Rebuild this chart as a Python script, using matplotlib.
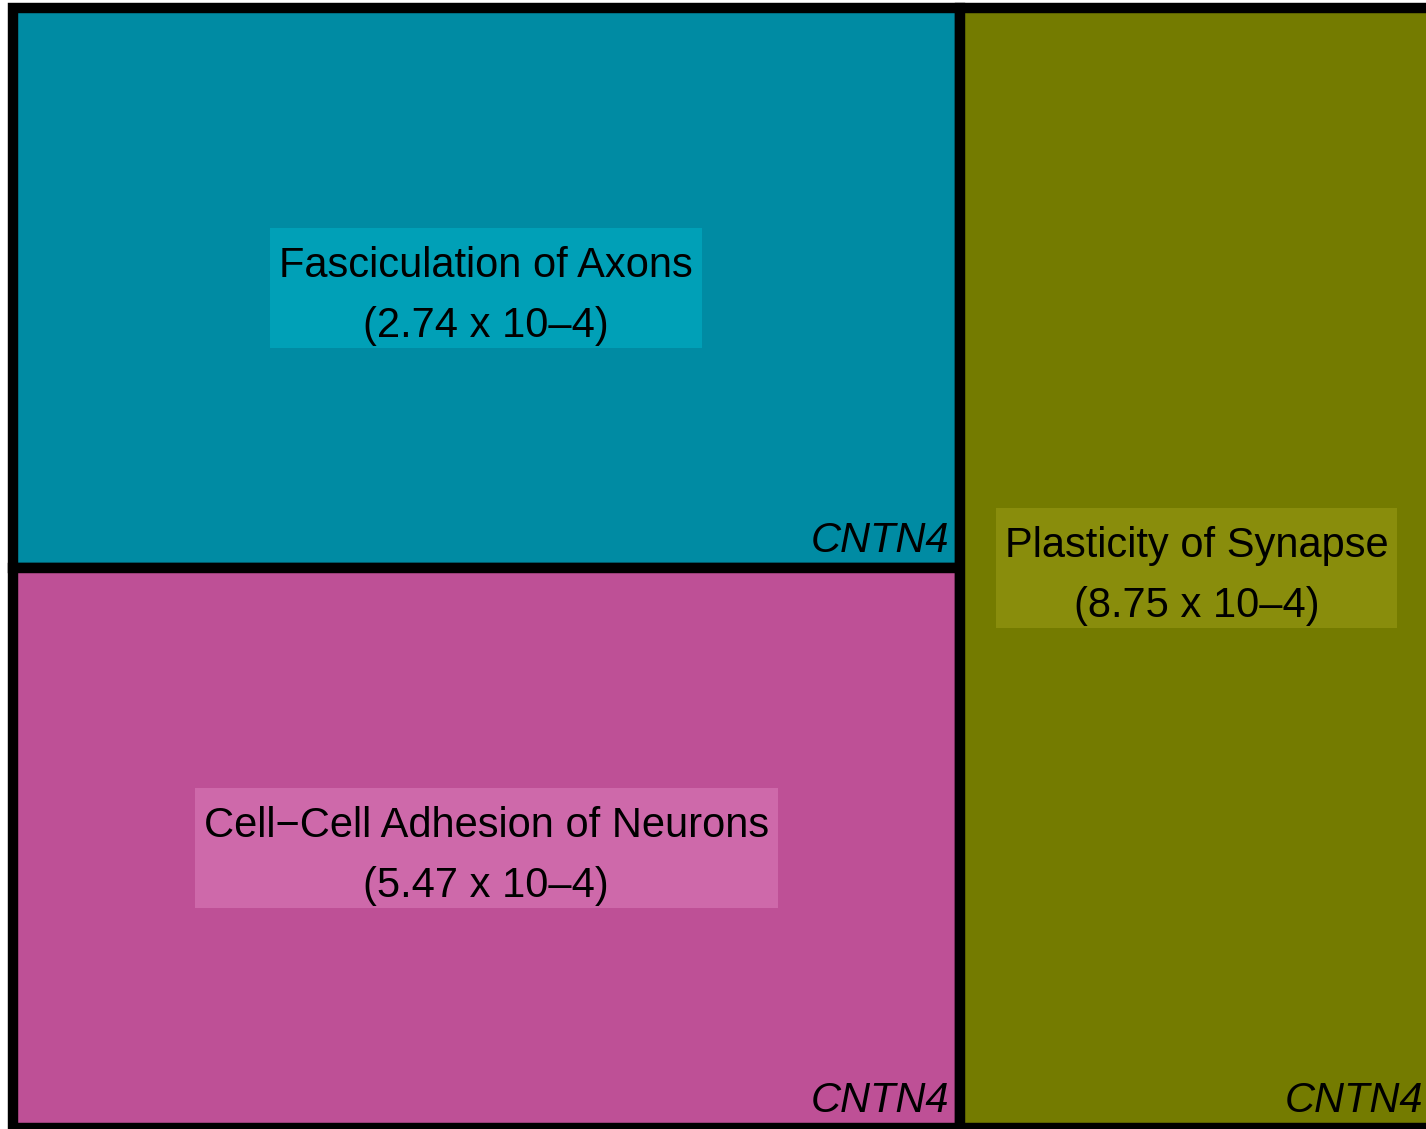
import matplotlib.pyplot as plt
from matplotlib.patches import Rectangle

plt.rcParams['font.family'] = ['Liberation Sans', 'DejaVu Sans']

# treemap data: one gene (CNTN4) per term, p-values shown in the labels
terms = ["Fasciculation of Axons", "Cell\u2212Cell Adhesion of Neurons", "Plasticity of Synapse"]
pvals = ["2.74 x 10\u20134", "5.47 x 10\u20134", "8.75 x 10\u20134"]
genes = ["CNTN4", "CNTN4", "CNTN4"]
sizes = [1, 1, 1]
colors = ["#008BA3", "#BE5096", "#747B00"]
label_bg = ["#00A0B7", "#CE69AA", "#898D0C"]

# simple two-column layout: first two terms stacked left, third on the right
total = float(sum(sizes))
left_w = (sizes[0] + sizes[1]) / total
h0 = sizes[0] / (sizes[0] + sizes[1])
rects = [
    (0, 1 - h0, left_w, h0),
    (0, 0, left_w, 1 - h0),
    (left_w, 0, 1 - left_w, 1),
]

W, H = 1426, 1129
fig = plt.figure(figsize=(W / 100, H / 100), dpi=100)
ax = fig.add_axes([13 / W, 1 / H, 1420 / W, 1120 / H])
ax.set_xlim(0, 1)
ax.set_ylim(0, 1)
ax.axis('off')

for i, (x, y, w, h) in enumerate(rects):
    ax.add_patch(Rectangle((x, y), w, h, facecolor=colors[i], edgecolor='black',
                           linewidth=7.5, clip_on=False, zorder=1))

renderer = fig.canvas.get_renderer()
line_h = 60  # pixels per label line
for i, (x, y, w, h) in enumerate(rects):
    cx, cy = x + w / 2, y + h / 2
    t1 = ax.annotate(terms[i], xy=(cx, cy), xytext=(0, line_h * 0.36),
                     textcoords='offset pixels', ha='center', va='center',
                     fontsize=30, zorder=3)
    t2 = ax.annotate("(" + pvals[i] + ")", xy=(cx, cy), xytext=(0, -line_h * 0.64),
                     textcoords='offset pixels', ha='center', va='center',
                     fontsize=30, zorder=3)
    # background box sized from the text extent
    wmax = max(t1.get_window_extent(renderer).width, t2.get_window_extent(renderer).width)
    inv = ax.transData.inverted()
    px, py = ax.transData.transform((cx, cy))
    (x0, y0), (x1, y1) = inv.transform([(px - wmax / 2 - 9, py - line_h), (px + wmax / 2 + 9, py + line_h)])
    ax.add_patch(Rectangle((x0, y0), x1 - x0, y1 - y0, facecolor=label_bg[i],
                           edgecolor='none', zorder=2))
    ax.annotate(genes[i], xy=(x + w, y), xytext=(-10, 7), textcoords='offset pixels',
                ha='right', va='bottom', fontsize=30, style='italic', zorder=3)

fig.savefig("out.png", dpi=100)
